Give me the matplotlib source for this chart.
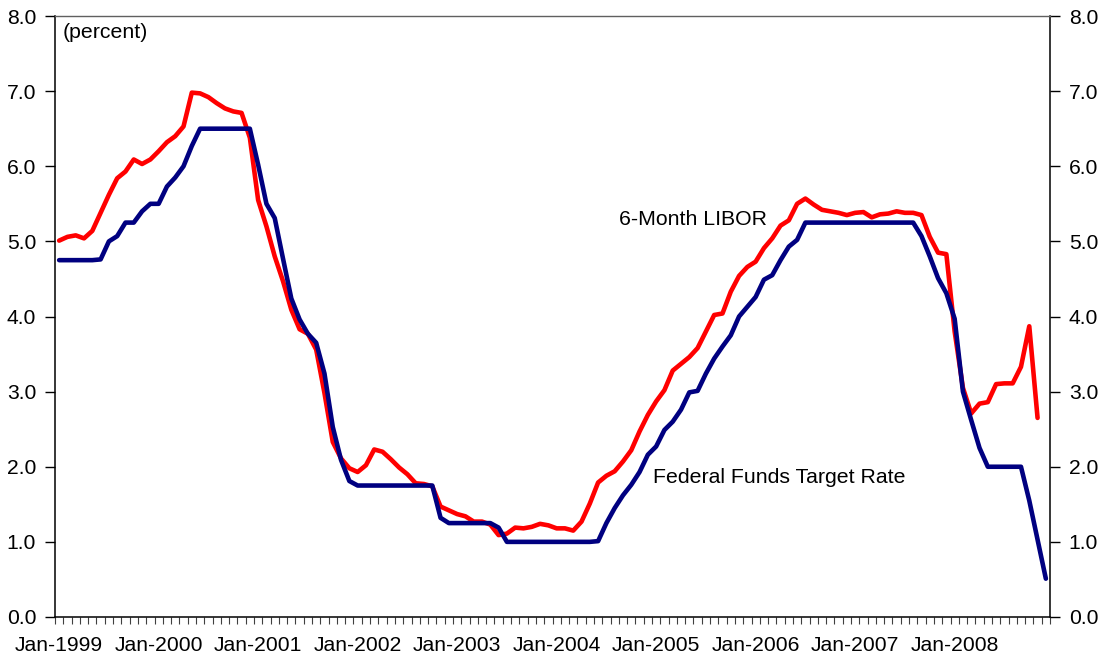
import numpy as np
import matplotlib
matplotlib.use("Agg")
import matplotlib.pyplot as plt
from matplotlib.ticker import FixedLocator, FormatStrFormatter

plt.rcParams['font.family'] = ['Liberation Sans', 'DejaVu Sans']

# monthly values, Jan-1999 .. Dec-2008 (percent)
fed_funds = [
    4.75, 4.75, 4.75, 4.75, 4.75, 4.76, 5.00, 5.07, 5.25, 5.25, 5.40, 5.50,  # 1999
    5.50, 5.73, 5.85, 6.00, 6.27, 6.50, 6.50, 6.50, 6.50, 6.50, 6.50, 6.50,  # 2000
    6.02, 5.50, 5.31, 4.77, 4.24, 3.96, 3.77, 3.65, 3.24, 2.53, 2.09, 1.81,  # 2001
    1.75, 1.75, 1.75, 1.75, 1.75, 1.75, 1.75, 1.75, 1.75, 1.75, 1.32, 1.25,  # 2002
    1.25, 1.25, 1.25, 1.25, 1.25, 1.19, 1.00, 1.00, 1.00, 1.00, 1.00, 1.00,  # 2003
    1.00, 1.00, 1.00, 1.00, 1.00, 1.01, 1.25, 1.45, 1.62, 1.76, 1.93, 2.16,  # 2004
    2.27, 2.49, 2.60, 2.76, 2.99, 3.01, 3.24, 3.44, 3.60, 3.75, 4.00, 4.13,  # 2005
    4.26, 4.49, 4.55, 4.75, 4.93, 5.02, 5.25, 5.25, 5.25, 5.25, 5.25, 5.25,  # 2006
    5.25, 5.25, 5.25, 5.25, 5.25, 5.25, 5.25, 5.25, 5.07, 4.80, 4.51, 4.31,  # 2007
    3.97, 3.00, 2.62, 2.25, 2.00, 2.00, 2.00, 2.00, 2.00, 1.55, 1.03, 0.51,  # 2008
]

libor_6m = [
    5.01, 5.06, 5.08, 5.04, 5.14, 5.38, 5.62, 5.84, 5.93, 6.09, 6.03, 6.09,  # 1999
    6.20, 6.32, 6.40, 6.53, 6.98, 6.97, 6.92, 6.84, 6.77, 6.73, 6.71, 6.38,  # 2000
    5.55, 5.20, 4.80, 4.47, 4.09, 3.83, 3.77, 3.56, 2.98, 2.33, 2.11, 1.98,  # 2001
    1.93, 2.02, 2.23, 2.20, 2.10, 1.99, 1.90, 1.78, 1.77, 1.74, 1.47, 1.42,  # 2002
    1.37, 1.34, 1.27, 1.27, 1.23, 1.09, 1.11, 1.19, 1.18, 1.20, 1.24, 1.22,  # 2003
    1.18, 1.18, 1.15, 1.27, 1.51, 1.79, 1.88, 1.94, 2.07, 2.22, 2.47, 2.69,  # 2004
    2.87, 3.02, 3.28, 3.37, 3.46, 3.58, 3.80, 4.02, 4.04, 4.33, 4.54, 4.66,  # 2005
    4.73, 4.91, 5.04, 5.21, 5.28, 5.50, 5.57, 5.49, 5.42, 5.40, 5.38, 5.35,  # 2006
    5.38, 5.39, 5.32, 5.36, 5.37, 5.40, 5.38, 5.38, 5.35, 5.06, 4.85, 4.83,  # 2007
    3.80, 3.05, 2.71, 2.84, 2.86, 3.10, 3.11, 3.11, 3.33, 3.87, 2.65,        # 2008 (to Nov)
]

years = list(range(1999, 2009))
year_labels = [f"Jan-{y}" for y in years]

fig = plt.figure(figsize=(11.02, 6.61), dpi=100)
ax = fig.add_axes([55 / 1102, 1 - 617 / 661, 995 / 1102, 601 / 661])

ax.plot(np.arange(len(libor_6m)), libor_6m, color='#FF0000', lw=3.3,
        solid_joinstyle='round', solid_capstyle='round', zorder=2)
ax.plot(np.arange(len(fed_funds)), fed_funds, color='#000080', lw=3.3,
        solid_joinstyle='round', solid_capstyle='round', zorder=3)

n = len(fed_funds)
ax.set_xlim(-0.5, n - 0.5)
ax.set_ylim(0, 8)

ax.xaxis.set_major_locator(FixedLocator([12 * i for i in range(len(years))]))
ax.set_xticklabels(year_labels)
ax.xaxis.set_minor_locator(FixedLocator(np.arange(-0.5, n, 1.0)))
ax.tick_params(axis='x', which='major', length=0, pad=14, labelsize=15.2)
ax.tick_params(axis='x', which='minor', length=5, width=0.8, direction='out', color='#404040')

ax.set_yticks(np.arange(0, 9, 1))
ax.yaxis.set_major_formatter(FormatStrFormatter('%.1f'))
ax.tick_params(axis='y', which='major', length=7, width=1, direction='out',
               left=True, right=True, labelleft=True, labelright=True,
               labelsize=15.2, pad=6.5)

for side in ['left', 'right', 'bottom']:
    ax.spines[side].set_color('black')
    ax.spines[side].set_linewidth(1.1)
ax.spines['top'].set_color('#606060')
ax.spines['top'].set_linewidth(1.0)

ax.text(0.008, 0.972, '(percent)', transform=ax.transAxes, fontsize=15.3,
        ha='left', va='center')
ax.text(67.55, 5.29, '6-Month LIBOR', fontsize=15.3, ha='left', va='center')
ax.text(71.65, 1.86, 'Federal Funds Target Rate', fontsize=15.3, ha='left', va='center')

fig.savefig('out.png', dpi=100)
